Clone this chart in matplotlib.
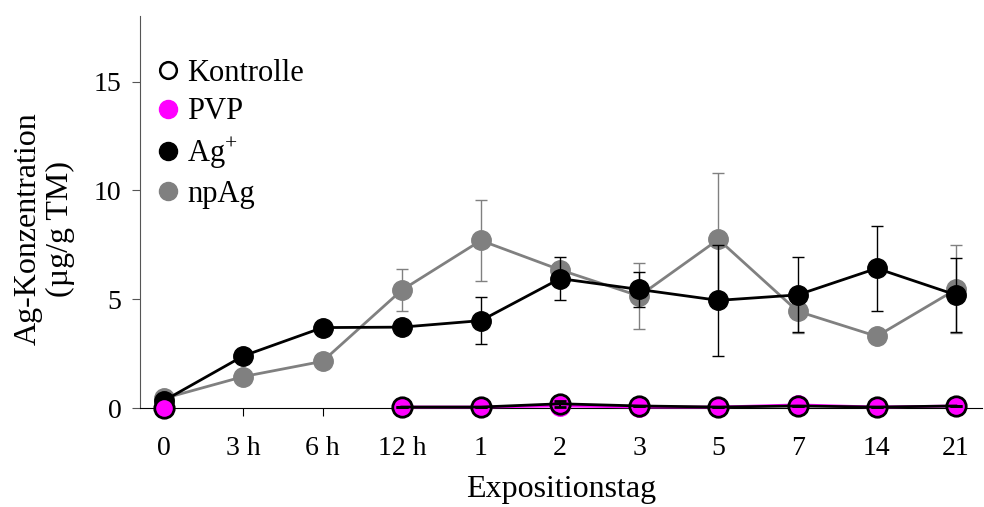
import matplotlib
matplotlib.use('Agg')
import matplotlib.pyplot as plt
from matplotlib.lines import Line2D
import numpy as np

plt.rcParams['font.family'] = ['Liberation Serif', 'DejaVu Serif']
plt.rcParams['mathtext.fontset'] = 'custom'
plt.rcParams['mathtext.rm'] = 'Liberation Serif'

tage = ['0', '3 h', '6 h', '12 h', '1', '2', '3', '5', '7', '14', '21']

# Kontrolle und PVP: Wert bei 0, danach erst ab 12 h gemessen
kontrolle_idx = [0, 3, 4, 5, 6, 7, 8, 9, 10]
kontrolle = [0.0, 0.05, 0.05, 0.2, 0.1, 0.05, 0.1, 0.05, 0.1]
kontrolle_err = [0.0, 0.0, 0.0, 0.13, 0.0, 0.0, 0.0, 0.0, 0.0]

pvp_idx = [0, 3, 4, 5, 6, 7, 8, 9, 10]
pvp = [0.0, 0.05, 0.05, 0.1, 0.05, 0.05, 0.15, 0.05, 0.1]

ag = [0.35, 2.4, 3.7, 3.72, 4.02, 5.95, 5.45, 4.95, 5.2, 6.42, 5.2]
ag_err = [0.0, 0.0, 0.0, 0.0, 1.08, 0.97, 0.82, 2.55, 1.72, 1.95, 1.7]

npag = [0.45, 1.45, 2.15, 5.42, 7.7, 6.35, 5.15, 7.75, 4.45, 3.3, 5.45]
npag_err = [0.0, 0.0, 0.0, 0.95, 1.88, 0.3, 1.52, 3.05, 0.98, 0.0, 2.02]

x = np.arange(len(tage))
xk = x[kontrolle_idx]
xp = x[pvp_idx]

fig, ax = plt.subplots(figsize=(9.84, 5.07), dpi=100)
fig.subplots_adjust(left=0.142, right=0.998, bottom=0.195, top=0.968)

ms = 14
ax.errorbar(x, npag, yerr=npag_err, color='#808080', marker='o', ms=ms, lw=2,
            ecolor='#808080', elinewidth=1, capsize=4, zorder=3, clip_on=False)
ax.errorbar(x, ag, yerr=ag_err, color='black', marker='o', ms=ms, lw=2,
            ecolor='black', elinewidth=1, capsize=4, zorder=4, clip_on=False)

# PVP: Linie erst ab 12 h, Einzelpunkt bei 0
ax.plot(xp[1:], pvp[1:], color='#ff00ff', marker='o', ms=ms, lw=2, zorder=5, clip_on=False)
ax.plot(xp[:1], pvp[:1], color='#ff00ff', marker='o', ms=ms, ls='none', zorder=5,
        clip_on=False)

# Kontrolle: offene Kreise
ax.errorbar(xk[1:], kontrolle[1:], yerr=kontrolle_err[1:], color='black', marker='o',
            ms=ms, mfc='none', mec='black', mew=2, lw=2, elinewidth=1.5, capsize=4,
            zorder=6, clip_on=False)
ax.plot(xk[:1], kontrolle[:1], ls='none', marker='o', ms=ms, mfc='none',
        mec='black', mew=2, zorder=6, clip_on=False)

ax.set_xlim(-0.31, 10.33)
ax.set_ylim(0, 18)
ax.set_xticks(x)
ax.set_xticklabels(tage)
ax.set_yticks([0, 5, 10, 15])
ax.tick_params(labelsize=20, length=6)
ax.tick_params(axis='x', pad=14)
ax.tick_params(axis='y', pad=7, colors='#555555', labelcolor='black')

ax.spines['top'].set_visible(False)
ax.spines['right'].set_visible(False)
ax.spines['left'].set_color('#555555')

ax.set_xlabel('Expositionstag', fontsize=23, labelpad=10)
ax.set_ylabel('Ag-Konzentration\n(µg/g TM)', fontsize=23, linespacing=1.15)
ax.yaxis.set_label_coords(-0.077, 0.457)

# Legende nur mit Markern
handles = [
    Line2D([], [], ls='none', marker='o', ms=12, mfc='none', mec='black', mew=1.8),
    Line2D([], [], ls='none', marker='o', ms=13, color='#ff00ff'),
    Line2D([], [], ls='none', marker='o', ms=13, color='black'),
    Line2D([], [], ls='none', marker='o', ms=13, color='#808080'),
]
ax.legend(handles, ['Kontrolle', 'PVP', 'Ag$^{+}$', 'npAg'], loc='upper left',
          bbox_to_anchor=(-0.005, 0.945), frameon=False, fontsize=22, handlelength=0.7,
          handletextpad=0.3, labelspacing=0.3, borderaxespad=0.3)

plt.savefig('out.png', dpi=100)
